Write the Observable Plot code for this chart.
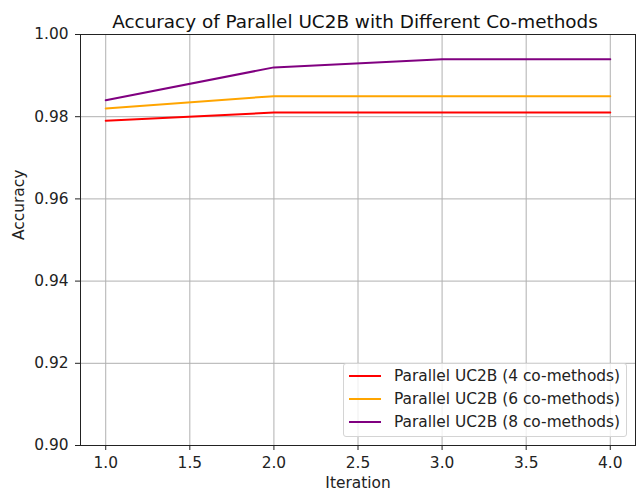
<!DOCTYPE html>
<html>
<head>
<meta charset="utf-8">
<script src="https://cdn.jsdelivr.net/npm/d3@7"></script>
<script src="https://cdn.jsdelivr.net/npm/@observablehq/plot@0.6"></script>
<style>
  html, body { margin: 0; padding: 0; background: #fff; }
  #wrap { position: relative; width: 637px; height: 493px; font-family: "DejaVu Sans", sans-serif; }
  #legend { position: absolute; left: 343px; top: 363px; width: 282px; height: 72px;
    border: 1px solid #d4d4d4; border-radius: 3px; background: rgba(255,255,255,0.8);
    font-size: 15.4px; color: #222; }
  .row { position: absolute; left: 0; height: 20px; display: flex; align-items: center; white-space: nowrap; }
  .sw { width: 32px; height: 2px; margin-left: 5px; margin-right: 13px; }
</style>
</head>
<body>
<div id="wrap"></div>
<script>
const iterations = [1, 2, 3, 4];
const seriesNames = [
  "Parallel UC2B (4 co-methods)",
  "Parallel UC2B (6 co-methods)",
  "Parallel UC2B (8 co-methods)"
];
const acc4 = [0.979, 0.981, 0.981, 0.981];
const acc6 = [0.982, 0.985, 0.985, 0.985];
const acc8 = [0.984, 0.992, 0.994, 0.994];
const colors = ["red", "orange", "purple"];
const xTicks = [1.0, 1.5, 2.0, 2.5, 3.0, 3.5, 4.0];
const yTicks = [0.90, 0.92, 0.94, 0.96, 0.98, 1.00];
const title = "Accuracy of Parallel UC2B with Different Co-methods";

const allSeries = [acc4, acc6, acc8];
const data = [];
allSeries.forEach((vals, i) => vals.forEach((v, j) => data.push({series: seriesNames[i], x: iterations[j], y: v})));

const chart = Plot.plot({
  width: 637,
  height: 493,
  marginLeft: 80,
  marginRight: 2,
  marginTop: 34,
  marginBottom: 48,
  style: {fontFamily: "DejaVu Sans, sans-serif", fontSize: "15.4px", color: "#222", background: "white"},
  x: {domain: [0.85, 4.15]},
  y: {domain: [0.9, 1.0]},
  color: {domain: seriesNames, range: colors},
  marks: [
    Plot.gridX(xTicks, {stroke: "#b0b0b0", strokeOpacity: 1, strokeWidth: 1}),
    Plot.gridY(yTicks, {stroke: "#b0b0b0", strokeOpacity: 1, strokeWidth: 1}),
    Plot.line(data, {x: "x", y: "y", z: "series", stroke: "series", strokeWidth: 2}),
    Plot.frame({stroke: "#222", strokeWidth: 1}),
    Plot.axisX(xTicks, {tickSize: 5, tickPadding: 7, tickFormat: d3.format(".1f"), label: null, fontSize: 15.4}),
    Plot.axisY(yTicks, {tickSize: 5, tickPadding: 7, tickFormat: d3.format(".2f"), label: null, fontSize: 15.4}),
    Plot.text([title], {frameAnchor: "top", dy: -20, dx: -3, fontSize: 18.4, fill: "#111"}),
    Plot.text(["Iteration"], {frameAnchor: "bottom", dy: 42, fontSize: 15.4, fill: "#222"}),
    Plot.text(["Accuracy"], {frameAnchor: "left", dx: -61, rotate: -90, fontSize: 15.4, fill: "#222"})
  ]
});

const wrap = document.getElementById("wrap");
wrap.appendChild(chart);

const legend = document.createElement("div");
legend.id = "legend";
seriesNames.forEach((name, i) => {
  const row = document.createElement("div");
  row.className = "row";
  row.style.top = (2 + i * 23) + "px";
  const sw = document.createElement("div");
  sw.className = "sw";
  sw.style.background = colors[i];
  const t = document.createElement("span");
  t.textContent = name;
  row.appendChild(sw);
  row.appendChild(t);
  legend.appendChild(row);
});
wrap.appendChild(legend);
</script>
</body>
</html>
